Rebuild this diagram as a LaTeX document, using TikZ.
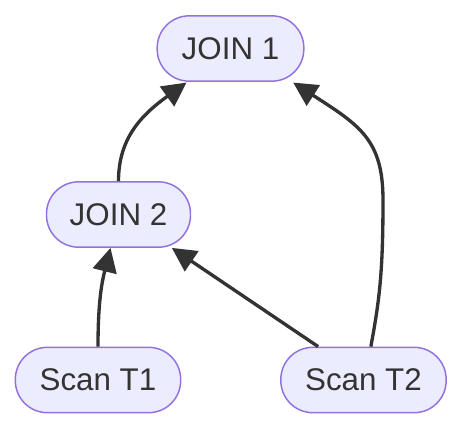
\documentclass[tikz,border=0pt]{standalone}
\usepackage{fontspec}
\setmainfont{Liberation Sans}
\usetikzlibrary{arrows.meta}
\definecolor{nodefill}{HTML}{ECECFF}
\definecolor{nodeline}{HTML}{9370DB}
\definecolor{ink}{HTML}{333333}
\begin{document}
\begin{tikzpicture}[x=0.75pt,y=-0.75pt,
  stadium/.style={draw=nodeline, fill=nodefill, line width=1.1pt, rounded corners=24pt,
    minimum height=49pt, inner sep=0pt, text=ink, font=\fontsize{23.5}{28}\selectfont},
  edge/.style={draw=ink, line width=2.5pt, -{Triangle[length=18pt,width=18pt]}}]
\useasboundingbox (0,0) rectangle (462,430);
\node[stadium, minimum width=110pt] (j1) at (230.5,48.5) {JOIN 1};
\node[stadium, minimum width=108pt] (j2) at (118.5,214.5) {JOIN 2};
\node[stadium, minimum width=124pt] (t1) at (98,380) {Scan T1};
\node[stadium, minimum width=124pt] (t2) at (363.5,380) {Scan T2};
\draw[edge] (j2.north) .. controls +(0,-42) and +(-46,33) .. ([xshift=-33pt,yshift=-0.5pt]j1.south);
\draw[edge] ([xshift=5.5pt]t2.north) .. controls +(9,-48) and +(0,70) .. (383,200)
  .. controls +(0,-60) and +(67,43) .. ([xshift=47pt,yshift=-0.5pt]j1.south);
\draw[edge] ([xshift=-34pt]t2.north) -- ([xshift=40pt]j2.south);
\draw[edge] (t1.north) .. controls +(0,-48) and +(-8,32) .. ([xshift=-6pt]j2.south);
\end{tikzpicture}
\end{document}
